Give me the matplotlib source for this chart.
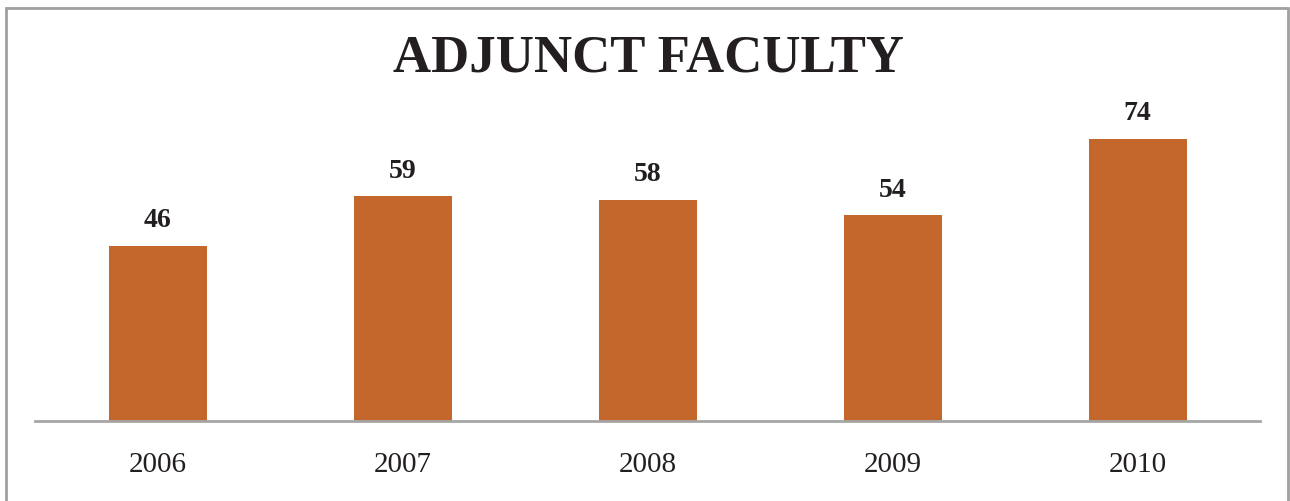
import matplotlib
matplotlib.use('Agg')
import matplotlib.pyplot as plt
from matplotlib.patches import Rectangle

years = ['2006', '2007', '2008', '2009', '2010']
adjuncts = [46, 59, 58, 54, 74]

BAR_COLOR = '#c4672d'
AXIS_COLOR = '#a6a6a6'
TEXT_COLOR = '#231f20'
SERIF = ['Liberation Serif', 'DejaVu Serif']

W, H = 1290, 501
fig = plt.figure(figsize=(W / 100, H / 100), dpi=100)
fig.patch.set_facecolor('white')

# axes placed in pixel terms: baseline at y=421, x from 35 to 1260
ax = fig.add_axes([35 / W, (H - 421) / H, 1225 / W, 305 / H])
x = range(len(years))
bars = ax.bar(x, adjuncts, width=0.4, color=BAR_COLOR, zorder=2)
ax.set_xlim(-0.5, len(years) - 0.5)
ax.set_ylim(0, 80)

for rect, v in zip(bars, adjuncts):
    ax.annotate(str(v), (rect.get_x() + rect.get_width() / 2, v),
                xytext=(0, 9), textcoords='offset points',
                ha='center', va='bottom', fontsize=20, fontweight='bold',
                family=SERIF, color=TEXT_COLOR)

ax.set_xticks(list(x))
ax.set_xticklabels(years, family=SERIF, fontsize=21, color=TEXT_COLOR)
ax.tick_params(axis='x', length=0, pad=22)
ax.set_yticks([])
for side in ['top', 'right', 'left']:
    ax.spines[side].set_visible(False)
ax.spines['bottom'].set_color(AXIS_COLOR)
ax.spines['bottom'].set_linewidth(2)

fig.text(648 / W, 1 - 59 / H, 'ADJUNCT FACULTY', ha='center', va='center',
         fontsize=38, fontweight='bold', family=SERIF, color=TEXT_COLOR)

# chart frame
fig.patches.append(Rectangle((6 / W, -0.05), (1288 - 6) / W, 1.05 - 8 / H,
                             transform=fig.transFigure, fill=False,
                             edgecolor='#a0a0a0', linewidth=2))

fig.savefig('out.png', dpi=100)
